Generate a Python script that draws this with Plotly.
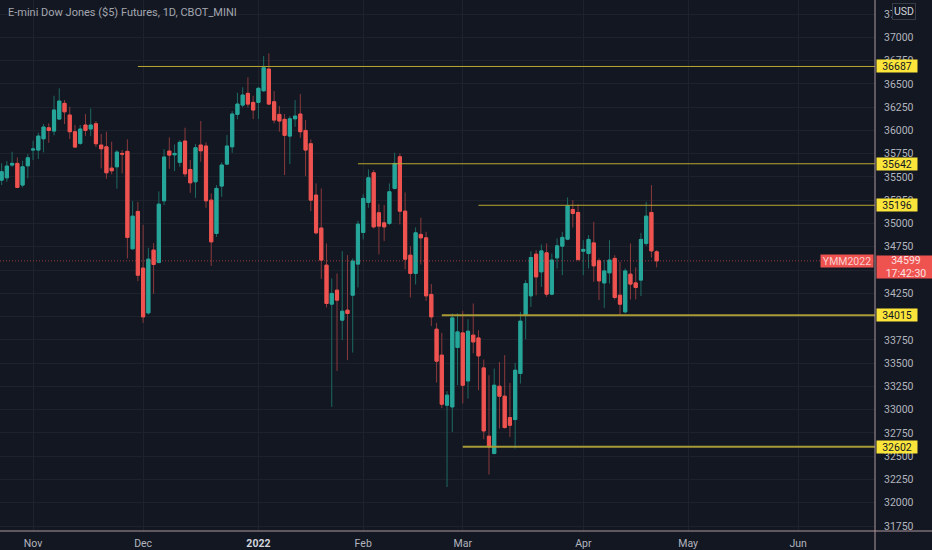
import pandas as pd
import plotly.graph_objects as go

title = "E-mini Dow Jones ($5) Futures, 1D, CBOT_MINI"
first_day = "2021-10-22"
last_day = "2022-04-22"
holidays = ["2021-11-25", "2021-12-24", "2022-01-17", "2022-02-21", "2022-04-15", "2022-05-30"]

opens = [35466, 35491, 35628, 35646, 35413, 35620, 35789, 35789, 35910, 36028,
         35993, 36122, 36291, 36165, 35986, 35861, 36058, 36015, 36072, 35843,
         35824, 35595, 35609, 35753, 35775, 34728, 35130, 34521, 34040, 34714,
         34582, 35244, 35778, 35738, 35657, 35886, 35581, 35448, 35843, 35832,
         35251, 34893, 35402, 35638, 35824, 36172, 36272, 36398, 36301, 36301,
         36426, 36659, 36308, 36172, 36119, 35939, 36125, 36176, 36000, 35857,
         35305, 34951, 34553, 34134, 34284, 33962, 34069, 34230, 34564, 34904,
         35227, 35545, 35115, 35007, 35001, 35377, 35717, 35133, 34660, 34464,
         34883, 34846, 34238, 33865, 33586, 33048, 33030, 33668, 33825, 33309,
         33801, 33771, 33449, 32715, 32529, 33252, 33145, 32916, 32894, 33389,
         34023, 34223, 34671, 34481, 34685, 34241, 34631, 34757, 34832, 35151,
         35119, 34703, 34678, 34792, 34599, 34362, 34470, 34625, 34230, 34051,
         34456, 34362, 34392, 34786, 35119, 34696]
highs = [35646, 35671, 35771, 35710, 35674, 35746, 35889, 35975, 36068, 36076,
         36372, 36452, 36326, 36254, 36058, 36058, 36176, 36237, 36101, 35961,
         35986, 35878, 35789, 35789, 35904, 35241, 35233, 34986, 34739, 34789,
         35345, 35799, 35925, 35850, 35896, 36029, 35681, 35853, 36101, 35872,
         35323, 35413, 35657, 35950, 36208, 36405, 36463, 36570, 36372, 36469,
         36799, 36828, 36423, 36262, 36176, 36154, 36326, 36391, 36111, 35904,
         35431, 35377, 34786, 34410, 34464, 34703, 34660, 34625, 35029, 35316,
         35581, 35574, 35208, 35198, 35431, 35760, 35753, 35334, 34757, 34958,
         35061, 34911, 34349, 33933, 33825, 33199, 34034, 34034, 34062, 33972,
         34141, 33854, 33539, 33370, 33442, 33513, 33586, 33288, 33503, 34051,
         34392, 34703, 34714, 34775, 34786, 34678, 34840, 34911, 35280, 35251,
         35205, 34821, 34875, 35018, 34625, 34607, 34821, 34660, 34588, 34517,
         34786, 34528, 34900, 35233, 35413, 34714]
lows = [35413, 35448, 35609, 35380, 35388, 35485, 35681, 35692, 35764, 35867,
        35947, 36111, 36068, 35907, 35818, 35843, 35943, 35939, 35821, 35592,
        35480, 35528, 35373, 35538, 34625, 34722, 34381, 33933, 34023, 34244,
        34571, 35198, 35588, 35563, 35609, 35502, 35330, 35276, 35663, 35169,
        34545, 34857, 35287, 35628, 35760, 36119, 36248, 36248, 36122, 36122,
        36415, 36272, 36076, 35986, 35520, 35638, 36039, 35921, 35509, 35133,
        34883, 34406, 34098, 33030, 33417, 33747, 33532, 33614, 34313, 34829,
        35169, 34947, 34668, 34811, 34983, 35366, 34990, 34510, 34206, 34345,
        34560, 34169, 33900, 33292, 33019, 32170, 32761, 33263, 33066, 33120,
        33605, 33209, 32683, 32303, 32521, 32798, 32798, 32707, 32583, 33281,
        33757, 34105, 34230, 34319, 34212, 34230, 34517, 34445, 34821, 34958,
        34599, 34445, 34517, 34373, 34177, 34094, 34356, 34184, 34015, 34034,
        34184, 34184, 34220, 34760, 34635, 34528]
closes = [35556, 35617, 35646, 35388, 35609, 35706, 35800, 35939, 36036, 36000,
          36219, 36315, 36200, 35986, 35821, 36015, 36000, 36058, 35857, 35803,
          35545, 35566, 35767, 35746, 34851, 35079, 34445, 33997, 34617, 34560,
          35208, 35714, 35735, 35753, 35872, 35534, 35437, 35814, 35781, 35244,
          34803, 35377, 35628, 35832, 36176, 36283, 36380, 36283, 36219, 36452,
          36673, 36283, 36111, 36101, 35947, 36125, 36154, 35986, 35789, 35251,
          34900, 34607, 34141, 34249, 34177, 34058, 34034, 34596, 34993, 35270,
          35491, 34964, 34972, 34964, 35341, 35646, 35133, 34617, 34464, 34900,
          34846, 34223, 33997, 33521, 33059, 33156, 33986, 33836, 33263, 33843,
          33728, 33578, 32772, 32600, 33263, 33145, 32808, 32833, 33424, 33951,
          34356, 34635, 34427, 34706, 34241, 34607, 34760, 34851, 35190, 35108,
          34614, 34722, 34829, 34545, 34384, 34491, 34607, 34206, 34134, 34491,
          34349, 34313, 34829, 35079, 34706, 34599]

levels = [36687, 35642, 35196, 34015, 32602]
level_starts = ["2021-11-30", "2022-01-31", "2022-03-04", "2022-02-23", "2022-03-01"]
level_widths = [1, 1, 1, 2, 2]

last_price = 34599
countdown = "17:42:30"
symbol = "YMM2022"
currency = "USD"

month_ticks = ["2021-11-01", "2021-12-01", "2022-01-03", "2022-02-01",
               "2022-03-01", "2022-04-01", "2022-05-02", "2022-06-01"]
month_labels = ["Nov", "Dec", "<b><span style='color:#d1d4dc'>2022</span></b>",
                "Feb", "Mar", "Apr", "May", "Jun"]
x_view = ["2021-10-22 04:34", "2022-06-22 04:00"]
y_view = [31697, 37401]

BG = "#131722"
GRID = "#1e222d"
UP = "#26a69a"
DOWN = "#ef5350"
UP_WICK = "#1d6a64"
DOWN_WICK = "#8a3a3c"
TXT = "#b2b5be"
FONT = "Roboto"

days = pd.bdate_range(first_day, last_day)
days = days[~days.isin(pd.to_datetime(holidays))]
x = days + pd.Timedelta(hours=12)

body_hi = [max(o, c) for o, c in zip(opens, closes)]
body_lo = [min(o, c) for o, c in zip(opens, closes)]

fig = go.Figure()
# wicks
fig.add_trace(go.Candlestick(
    x=x, open=opens, high=highs, low=lows, close=closes,
    increasing=dict(line=dict(color=UP_WICK, width=1), fillcolor=UP_WICK),
    decreasing=dict(line=dict(color=DOWN_WICK, width=1), fillcolor=DOWN_WICK),
    whiskerwidth=0, hoverinfo="skip", showlegend=False))
# bodies
fig.add_trace(go.Candlestick(
    x=x, open=opens, high=body_hi, low=body_lo, close=closes,
    increasing=dict(line=dict(color=UP, width=1), fillcolor=UP),
    decreasing=dict(line=dict(color=DOWN, width=1), fillcolor=DOWN),
    whiskerwidth=0, hoverinfo="skip", showlegend=False))

shapes = []
for lv, st, w in zip(levels, level_starts, level_widths):
    shapes.append(dict(type="line", xref="x", yref="y",
                       x0=pd.Timestamp(st) + pd.Timedelta(hours=12), x1="2022-12-31",
                       y0=lv, y1=lv, line=dict(color="#b9a831" if w == 1 else "#a89a36", width=w),
                       layer="above"))
shapes.append(dict(type="line", xref="paper", yref="y", x0=0, x1=1, y0=last_price, y1=last_price,
                   line=dict(color="rgba(239,83,80,0.6)", width=1, dash="1px,2px"), layer="above"))
# frame lines
shapes.append(dict(type="line", xref="paper", yref="paper", x0=0, x1=1.08, y0=0, y1=0,
                   line=dict(color="#ad979e", width=1), layer="above"))
shapes.append(dict(type="line", xref="paper", yref="paper", x0=1, x1=1, y0=-0.05, y1=1.01,
                   line=dict(color="#ad979e", width=1), layer="above"))

ann = []
ann.append(dict(text=title, xref="paper", yref="paper", x=0, y=1, xanchor="left", yanchor="middle",
                xshift=6, yshift=-12, showarrow=False, font=dict(family=FONT, size=11, color="#a3a6af")))
for lv in levels:
    ann.append(dict(text=str(lv), xref="paper", yref="y", x=1, y=lv, xanchor="left", yanchor="middle",
                    xshift=1, showarrow=False, bgcolor="#fbe53b", width=40, height=12, borderpad=0,
                    font=dict(family=FONT, size=10.5, color="#131722")))
ann.append(dict(text=f"{last_price}<br>{countdown}", xref="paper", yref="y", x=1, y=last_price,
                xanchor="left", yanchor="top", xshift=1, yshift=6, showarrow=False,
                bgcolor=DOWN, width=58, height=22, borderpad=0,
                font=dict(family=FONT, size=10.5, color="#fbe1e1")))
ann.append(dict(text=symbol, xref="paper", yref="y", x=1, y=last_price, xanchor="right",
                yanchor="middle", xshift=-1, showarrow=False, bgcolor=DOWN, width=52, height=12,
                borderpad=0, font=dict(family=FONT, size=10.5, color="#f9cfcf")))
ann.append(dict(text=currency, xref="paper", yref="paper", x=1, y=1, xanchor="left", yanchor="top",
                xshift=17, yshift=-3, showarrow=False, bgcolor=BG, bordercolor="#363a45",
                borderwidth=1, borderpad=1, font=dict(family=FONT, size=10.5, color="#d1d4dc")))

fig.update_layout(
    width=932, height=550,
    margin=dict(l=0, r=57, t=0, b=19),
    paper_bgcolor=BG, plot_bgcolor=BG,
    showlegend=False,
    boxgap=0.4, boxgroupgap=0,
    shapes=shapes, annotations=ann,
    font=dict(family=FONT, size=10.5, color=TXT),
)
fig.update_xaxes(
    type="date", range=x_view,
    rangebreaks=[dict(bounds=["sat", "mon"]), dict(values=holidays)],
    rangeslider=dict(visible=False),
    tickmode="array",
    tickvals=[pd.Timestamp(t) + pd.Timedelta(hours=12) for t in month_ticks],
    ticktext=month_labels,
    showgrid=True, gridcolor=GRID, gridwidth=1,
    zeroline=False, showline=False, ticks="",
    ticklabelstandoff=4,
    tickfont=dict(family=FONT, size=10.5, color=TXT),
)
fig.update_yaxes(
    side="right", range=y_view, tick0=0, dtick=250, tickformat="d",
    showgrid=True, gridcolor=GRID, gridwidth=1,
    zeroline=False, showline=False, ticks="",
    ticklabelstandoff=8,
    tickfont=dict(family=FONT, size=10.5, color=TXT),
)

fig.write_html("out.html", config={"displayModeBar": False},
               post_script="document.body.style.margin='0px';document.body.style.background='#131722';")
